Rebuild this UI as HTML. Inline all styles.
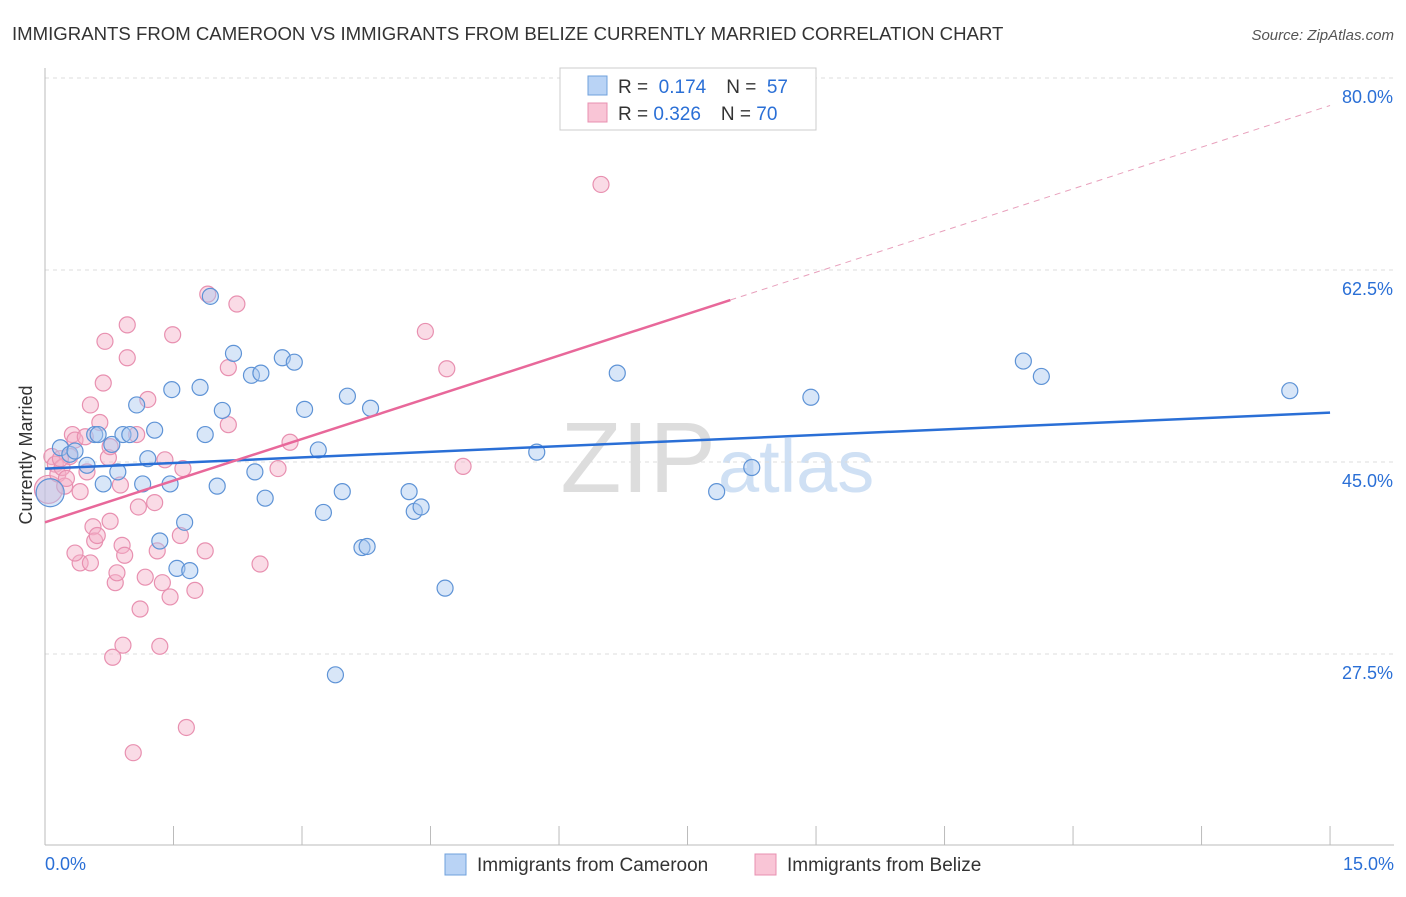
<!DOCTYPE html>
<html><head><meta charset="utf-8"><style>
body{margin:0;background:#fff;font-family:"Liberation Sans",sans-serif}
svg text{font-family:"Liberation Sans",sans-serif}
</style></head><body>
<svg id="c" width="1406" height="892">
<text x="12" y="40" font-size="18.6" fill="#333">IMMIGRANTS FROM CAMEROON VS IMMIGRANTS FROM BELIZE CURRENTLY MARRIED CORRELATION CHART</text>
<text x="1394" y="40" font-size="15" fill="#555" text-anchor="end" font-style="italic">Source: ZipAtlas.com</text>
<text x="32" y="455" font-size="18" fill="#333" text-anchor="middle" transform="rotate(-90 32 455)">Currently Married</text>
<text x="716" y="492" font-size="100" fill="#ddd" font-family="Liberation Serif" text-anchor="end">ZIP</text>
<text x="718" y="492" font-size="74" fill="#cfe0f4">atlas</text>
<g id="grid"></g><g id="marks"></g><g id="lines"></g>
<g>
<rect x="560" y="68" width="256" height="62" fill="#fff" stroke="#ccc"/>
<rect x="588" y="76" width="19" height="19" fill="#b9d3f5" stroke="#6fa0dc"/>
<rect x="588" y="103" width="19" height="19" fill="#f9c5d6" stroke="#e890b0"/>
<text x="618" y="93" font-size="19" fill="#333">R = <tspan fill="#2a6fd6">&#160;0.174</tspan><tspan dx="20">N = </tspan><tspan fill="#2a6fd6">&#160;57</tspan></text>
<text x="618" y="120" font-size="19" fill="#333">R = <tspan fill="#2a6fd6">0.326</tspan><tspan dx="20">N = </tspan><tspan fill="#2a6fd6">70</tspan></text>
</g>
<g>
<rect x="445" y="854" width="21" height="21" fill="#b9d3f5" stroke="#6fa0dc"/>
<text x="477" y="871" font-size="19" fill="#333">Immigrants from Cameroon</text>
<rect x="755" y="854" width="21" height="21" fill="#f9c5d6" stroke="#e890b0"/>
<text x="787" y="871" font-size="19" fill="#333">Immigrants from Belize</text>
</g>
</svg>
<script>
const yTicks=[27.5,45.0,62.5,80.0];
const xTickLabels=["0.0%","15.0%"];
const blueX=[0.06,0.18,0.29,0.35,0.49,0.58,0.62,0.68,0.78,0.85,0.91,0.99,1.07,1.14,1.20,1.28,1.34,1.46,1.48,1.54,1.63,1.69,1.81,1.87,1.93,2.01,2.07,2.20,2.41,2.45,2.52,2.57,2.77,2.91,3.03,3.19,3.25,3.47,3.53,3.70,3.76,3.80,4.25,4.31,4.39,4.67,3.39,5.74,6.68,7.84,8.25,8.94,11.42,11.63,14.53];
const blueY=[42.2,46.3,45.7,46.0,44.7,47.5,47.5,43.0,46.6,44.1,47.5,47.5,50.2,43.0,45.3,47.9,37.8,43.0,51.6,35.3,39.5,35.1,51.8,47.5,60.1,42.8,49.7,54.9,52.9,44.1,53.1,41.7,54.5,54.1,49.8,46.1,40.4,42.3,51.0,37.2,37.3,49.9,42.3,40.5,40.9,33.5,25.6,45.9,53.1,42.3,44.5,50.9,54.2,52.8,51.5];
const pinkX=[0.04,0.08,0.12,0.15,0.20,0.23,0.29,0.32,0.35,0.41,0.47,0.49,0.53,0.56,0.58,0.61,0.64,0.68,0.70,0.74,0.76,0.79,0.82,0.84,0.88,0.90,0.91,0.93,0.96,0.96,1.03,1.07,1.09,1.11,1.17,1.20,1.28,1.31,1.34,1.37,1.40,1.46,1.49,1.58,1.61,1.65,1.75,1.87,1.90,2.14,2.24,2.14,2.51,2.72,2.86,4.44,4.69,4.88,6.49,0.41,0.35,0.76,0.18,0.53,0.25];
const pinkY=[42.5,45.5,44.8,43.9,44.5,42.8,45.5,47.5,47.0,42.3,47.3,44.1,50.2,39.1,37.8,38.3,48.6,52.2,56.0,45.4,39.6,27.2,34.0,34.9,42.9,37.4,28.3,36.5,57.5,54.5,18.5,47.5,40.9,31.6,34.5,50.7,41.3,36.9,28.2,34.0,45.2,32.7,56.6,38.3,44.4,20.8,33.3,36.9,60.3,48.4,59.4,53.6,35.7,44.4,46.8,56.9,53.5,44.6,70.3,35.8,36.7,46.4,45.3,35.8,43.5];
const blueLine=[44.4,49.5];
const pinkLine=[39.5,77.5];
const X=v=>45+v*85.67, Y=v=>462-(v-45)*10.97;
const ns="http://www.w3.org/2000/svg";
function mk(t,a,p){const e=document.createElementNS(ns,t);for(const k in a)e.setAttribute(k,a[k]);p.appendChild(e);return e;}
const g=document.getElementById('grid');
yTicks.forEach(t=>{
 const l=mk('line',{x1:45,x2:1394,y1:Y(t),y2:Y(t),stroke:'#ddd','stroke-dasharray':'4 4'},g);
 
 
 const tx=mk('text',{x:1393,y:Y(t)+25,'font-size':18,fill:'#2a6fd6','text-anchor':'end'},g);
 tx.textContent=t.toFixed(1)+'%';
 
 
});
mk('line',{x1:45,x2:45,y1:68,y2:845,stroke:'#bbb'},g);
mk('line',{x1:45,x2:1394,y1:845,y2:845,stroke:'#bbb'},g);
for(let i=0;i<=10;i++){const l=mk('line',{x1:X(i*1.5),x2:X(i*1.5),y1:826,y2:845,stroke:'#bbb'},g);
 
 }
[[0,45,'start'],[1,1394,'end']].forEach(([i,x,a])=>{const t=mk('text',{x:x,y:870,'font-size':18,fill:'#2a6fd6','text-anchor':a},g);t.textContent=xTickLabels[i];
 
 });
const m=document.getElementById('marks');
function pts(xs,ys,f,s,n){xs.forEach((x,i)=>{const c=mk('circle',{cx:X(x),cy:Y(ys[i]),r:i==0?14:8,fill:f,'fill-opacity':0.45,stroke:s,'stroke-width':1.2},m);
 
 });}
pts(pinkX,pinkY,'#f4b0c8','#e890b0','belize-point');
pts(blueX,blueY,'#a8c8f0','#5e93d6','cameroon-point');
const L=document.getElementById('lines');
const bl=mk('line',{x1:X(0),y1:Y(blueLine[0]),x2:X(15),y2:Y(blueLine[1]),stroke:'#2a6fd6','stroke-width':2.5},L);


const pe=8.0, py=v=>pinkLine[0]+(pinkLine[1]-pinkLine[0])*v/15;
const pl=mk('line',{x1:X(0),y1:Y(py(0)),x2:X(pe),y2:Y(py(pe)),stroke:'#e8689a','stroke-width':2.5},L);


const pd=mk('line',{x1:X(pe),y1:Y(py(pe)),x2:X(15),y2:Y(py(15)),stroke:'#e8a0bc','stroke-width':1,'stroke-dasharray':'6 5'},L);


</script>
</body></html>
